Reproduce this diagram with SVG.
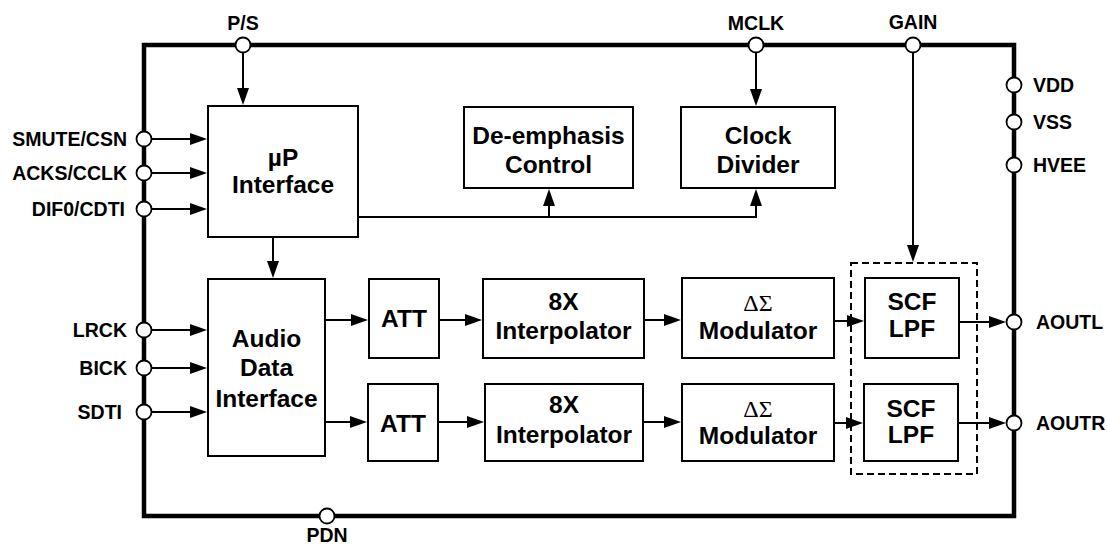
<svg xmlns="http://www.w3.org/2000/svg" width="1107" height="544" viewBox="0 0 1107 544">
<defs>
<style>
.blk{fill:#fff;stroke:#000;stroke-width:2}
.frame{fill:none;stroke:#000;stroke-width:4.5}
.ln{fill:none;stroke:#000;stroke-width:2}
.pin{fill:#fff;stroke:#000;stroke-width:1.8}
.pl{font-family:"Liberation Sans",Arial,sans-serif;font-weight:bold;font-size:19.5px;fill:#000}
.bt{font-family:"Liberation Sans",Arial,sans-serif;font-weight:bold;font-size:24.5px;fill:#000;text-anchor:middle}
.sym{font-family:"Liberation Serif","Times New Roman",serif;font-size:24px;fill:#000;text-anchor:middle}
.dash{fill:none;stroke:#000;stroke-width:2;stroke-dasharray:7 4}
</style>
<marker id="ah" viewBox="0 0 17 12" refX="14" refY="6" markerWidth="17" markerHeight="12" markerUnits="userSpaceOnUse" orient="auto">
<path d="M0,0 L17,6 L0,12 z" fill="#000"/>
</marker>
</defs>
<rect width="1107" height="544" fill="#fff"/>
<rect class="frame" x="144" y="45" width="870" height="471"/>

<g id="connectors">
<line class="ln" x1="243" y1="52" x2="243" y2="102" marker-end="url(#ah)"/>
<line class="ln" x1="756" y1="52" x2="756" y2="103" marker-end="url(#ah)"/>
<line class="ln" x1="913" y1="52" x2="913" y2="259" marker-end="url(#ah)"/>
<line class="ln" x1="151" y1="139" x2="204" y2="139" marker-end="url(#ah)"/>
<line class="ln" x1="151" y1="173" x2="204" y2="173" marker-end="url(#ah)"/>
<line class="ln" x1="151" y1="209" x2="204" y2="209" marker-end="url(#ah)"/>
<line class="ln" x1="151" y1="330" x2="204" y2="330" marker-end="url(#ah)"/>
<line class="ln" x1="151" y1="368" x2="204" y2="368" marker-end="url(#ah)"/>
<line class="ln" x1="151" y1="412" x2="204" y2="412" marker-end="url(#ah)"/>
<polyline class="ln" points="358,217 756,217 756,192" marker-end="url(#ah)"/>
<line class="ln" x1="549" y1="217" x2="549" y2="192" marker-end="url(#ah)"/>
<line class="ln" x1="273" y1="237" x2="273" y2="275" marker-end="url(#ah)"/>
<line class="ln" x1="325" y1="320" x2="365" y2="320" marker-end="url(#ah)"/>
<line class="ln" x1="325" y1="422" x2="364" y2="422" marker-end="url(#ah)"/>
<line class="ln" x1="439" y1="320" x2="479" y2="320" marker-end="url(#ah)"/>
<line class="ln" x1="438" y1="422" x2="481" y2="422" marker-end="url(#ah)"/>
<line class="ln" x1="644" y1="320" x2="678" y2="320" marker-end="url(#ah)"/>
<line class="ln" x1="643" y1="422" x2="678" y2="422" marker-end="url(#ah)"/>
<line class="ln" x1="834" y1="321" x2="861" y2="321" marker-end="url(#ah)"/>
<line class="ln" x1="834" y1="423" x2="860" y2="423" marker-end="url(#ah)"/>
<line class="ln" x1="959" y1="322" x2="1003" y2="322" marker-end="url(#ah)"/>
<line class="ln" x1="958" y1="423" x2="1003" y2="423" marker-end="url(#ah)"/>
</g>

<g id="up-interface">
<rect class="blk" x="208" y="106" width="150" height="131"/>
<text class="bt" x="283" y="166">µP</text>
<text class="bt" x="283" y="193">Interface</text>
</g>
<g id="deemphasis">
<rect class="blk" x="464" y="107" width="169" height="81"/>
<text class="bt" x="548.5" y="144">De-emphasis</text>
<text class="bt" x="548.5" y="173">Control</text>
</g>
<g id="clock-divider">
<rect class="blk" x="681" y="107" width="154" height="81"/>
<text class="bt" x="758" y="144">Clock</text>
<text class="bt" x="758" y="173">Divider</text>
</g>
<g id="audio-data-interface">
<rect class="blk" x="208" y="279" width="117" height="177"/>
<text class="bt" x="266.5" y="347">Audio</text>
<text class="bt" x="266.5" y="376">Data</text>
<text class="bt" x="266.5" y="407">Interface</text>
</g>
<g id="att-l">
<rect class="blk" x="369" y="279" width="70" height="79"/>
<text class="bt" x="404" y="327">ATT</text>
</g>
<g id="att-r">
<rect class="blk" x="368" y="384" width="70" height="77"/>
<text class="bt" x="403" y="432">ATT</text>
</g>
<g id="interp-l">
<rect class="blk" x="483" y="279" width="161" height="79"/>
<text class="bt" x="563.5" y="310">8X</text>
<text class="bt" x="563.5" y="339">Interpolator</text>
</g>
<g id="interp-r">
<rect class="blk" x="485" y="384" width="158" height="77"/>
<text class="bt" x="564" y="413">8X</text>
<text class="bt" x="564" y="443">Interpolator</text>
</g>
<g id="mod-l">
<rect class="blk" x="682" y="278" width="152" height="80"/>
<text class="sym" x="758" y="311">ΔΣ</text>
<text class="bt" x="758" y="339">Modulator</text>
</g>
<g id="mod-r">
<rect class="blk" x="682" y="384" width="152" height="77"/>
<text class="sym" x="758" y="417">ΔΣ</text>
<text class="bt" x="758" y="444">Modulator</text>
</g>
<g id="scf-group">
<rect class="dash" x="851" y="263" width="126" height="211"/>
</g>
<g id="scf-l">
<rect class="blk" x="865" y="278" width="94" height="80"/>
<text class="bt" x="912" y="310">SCF</text>
<text class="bt" x="912" y="337">LPF</text>
</g>
<g id="scf-r">
<rect class="blk" x="864" y="384" width="94" height="77"/>
<text class="bt" x="911" y="417">SCF</text>
<text class="bt" x="911" y="443">LPF</text>
</g>

<g id="pins">
<circle class="pin" cx="243" cy="45" r="7.5"/>
<circle class="pin" cx="756" cy="45" r="7.5"/>
<circle class="pin" cx="913" cy="45" r="7.5"/>
<circle class="pin" cx="144" cy="139" r="7.5"/>
<circle class="pin" cx="144" cy="173" r="7.5"/>
<circle class="pin" cx="144" cy="209" r="7.5"/>
<circle class="pin" cx="144" cy="330" r="7.5"/>
<circle class="pin" cx="144" cy="368" r="7.5"/>
<circle class="pin" cx="144" cy="412" r="7.5"/>
<circle class="pin" cx="1014" cy="85" r="7.5"/>
<circle class="pin" cx="1014" cy="122" r="7.5"/>
<circle class="pin" cx="1014" cy="165" r="7.5"/>
<circle class="pin" cx="1014" cy="322" r="7.5"/>
<circle class="pin" cx="1014" cy="423" r="7.5"/>
<circle class="pin" cx="327" cy="516" r="7.5"/>
</g>
<g id="pin-labels">
<text class="pl" x="243" y="30" text-anchor="middle">P/S</text>
<text class="pl" x="756" y="30" text-anchor="middle">MCLK</text>
<text class="pl" x="913" y="29" text-anchor="middle">GAIN</text>
<text class="pl" x="127" y="146" text-anchor="end">SMUTE/CSN</text>
<text class="pl" x="127" y="180" text-anchor="end">ACKS/CCLK</text>
<text class="pl" x="125" y="216" text-anchor="end">DIF0/CDTI</text>
<text class="pl" x="127" y="337" text-anchor="end">LRCK</text>
<text class="pl" x="127" y="375" text-anchor="end">BICK</text>
<text class="pl" x="122" y="419" text-anchor="end">SDTI</text>
<text class="pl" x="1033" y="92">VDD</text>
<text class="pl" x="1033" y="129">VSS</text>
<text class="pl" x="1033" y="172">HVEE</text>
<text class="pl" x="1036" y="329">AOUTL</text>
<text class="pl" x="1036" y="430">AOUTR</text>
<text class="pl" x="327" y="542" text-anchor="middle">PDN</text>
</g>
</svg>
